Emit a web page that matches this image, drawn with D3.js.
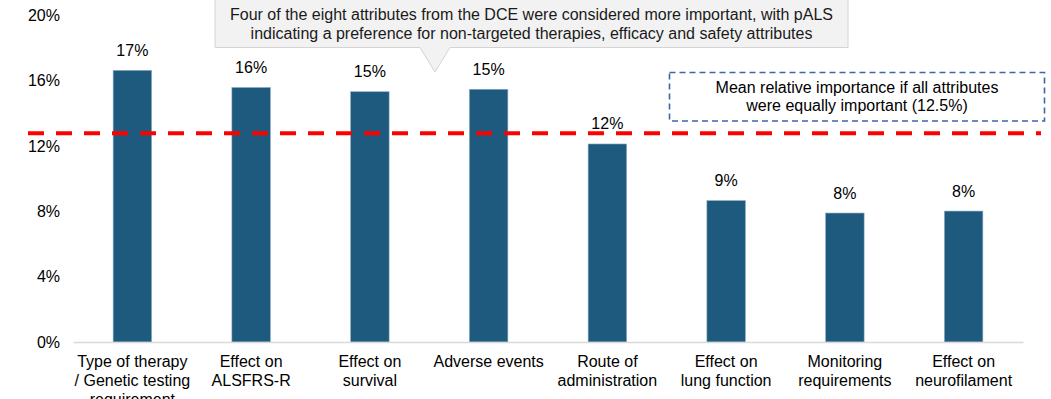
<!DOCTYPE html>
<html>
<head>
<meta charset="utf-8">
<script src="https://cdn.jsdelivr.net/npm/d3@7"></script>
<style>
  html, body { margin: 0; padding: 0; background: #fff; }
  svg { display: block; font-family: "Liberation Sans", Arial, sans-serif; }
</style>
</head>
<body>
<svg id="chart" width="1051" height="399"></svg>
<script>
// ---- data ----
const categories = [
  ["Type of therapy", "/ Genetic testing", "requirement"],
  ["Effect on", "ALSFRS-R"],
  ["Effect on", "survival"],
  ["Adverse events"],
  ["Route of", "administration"],
  ["Effect on", "lung function"],
  ["Monitoring", "requirements"],
  ["Effect on", "neurofilament"]
];
const values = [16.64, 15.59, 15.33, 15.48, 12.13, 8.66, 7.90, 8.02];
const valueLabels = ["17%", "16%", "15%", "15%", "12%", "9%", "8%", "8%"];
const yTicks = [0, 4, 8, 12, 16, 20];
const meanLineValue = 12.78;
const calloutLines = [
  "Four of the eight attributes from the DCE were considered more important, with pALS",
  "indicating a preference for non-targeted therapies, efficacy and safety attributes"
];
const meanBoxLines = [
  "Mean relative importance if all attributes",
  "were equally important (12.5%)"
];

// ---- layout ----
const svg = d3.select("#chart");
const x = d3.scaleBand()
  .domain(d3.range(categories.length))
  .range([73, 1023])
  .paddingInner(0.676)
  .paddingOuter(0.338);
const y = d3.scaleLinear().domain([0, 20]).range([342, 15.5]);

// y tick labels
const yAxis = d3.axisLeft(y).tickValues(yTicks).tickFormat(d => d + "%").tickSize(0).tickPadding(0);
const yg = svg.append("g").attr("transform", "translate(60,0)").call(yAxis);
yg.select(".domain").remove();
yg.selectAll("text").attr("font-size", 16).attr("fill", "#000").attr("font-family", "Liberation Sans, Arial, sans-serif");

// bars
svg.append("g").selectAll("rect").data(values).join("rect")
  .attr("x", (d, i) => x(i))
  .attr("width", x.bandwidth())
  .attr("y", d => y(d))
  .attr("height", d => y(0) - y(d))
  .attr("fill", "#1e5a7d")
  .attr("stroke", "#8aaac4")
  .attr("stroke-width", 0.6);

// baseline axis
const xAxis = d3.axisBottom(x).tickSize(0).tickFormat("");
const xg = svg.append("g").attr("transform", `translate(0,${y(0)})`).call(xAxis);
xg.select(".domain").attr("stroke", "#d9d9d9").attr("stroke-width", 1.6);

// x labels
const lab = svg.append("g").selectAll("text").data(categories).join("text")
  .attr("x", (d, i) => x(i) + x.bandwidth() / 2)
  .attr("y", 367)
  .attr("text-anchor", "middle")
  .attr("font-size", 16)
  .attr("fill", "#000");
lab.selectAll("tspan").data(d => d).join("tspan")
  .attr("x", function() { return this.parentNode.getAttribute("x"); })
  .attr("dy", (d, i) => i === 0 ? 0 : 19)
  .text(d => d);

// value labels
svg.append("g").selectAll("text").data(values).join("text")
  .attr("x", (d, i) => x(i) + x.bandwidth() / 2)
  .attr("y", d => y(d) - 14.5)
  .attr("text-anchor", "middle")
  .attr("font-size", 16)
  .attr("fill", "#000")
  .text((d, i) => valueLabels[i]);

// mean line
svg.append("line")
  .attr("x1", 28).attr("x2", 1041)
  .attr("y1", y(meanLineValue)).attr("y2", y(meanLineValue))
  .attr("stroke", "#ff0000")
  .attr("stroke-width", 4)
  .attr("stroke-dasharray", "16,12");

// callout box
const cb = { l: 215, r: 848, t: -2, b: 47.5, tl: 420, tr: 450, tipX: 435, tipY: 72 };
svg.append("path")
  .attr("d", `M${cb.l},${cb.t} L${cb.r},${cb.t} L${cb.r},${cb.b} L${cb.tr},${cb.b} L${cb.tipX},${cb.tipY} L${cb.tl},${cb.b} L${cb.l},${cb.b} Z`)
  .attr("fill", "#f2f2f2")
  .attr("stroke", "#d4d4d4")
  .attr("stroke-width", 1);
svg.append("g").selectAll("text").data(calloutLines).join("text")
  .attr("x", (cb.l + cb.r) / 2)
  .attr("y", (d, i) => 19.5 + i * 19.5)
  .attr("text-anchor", "middle")
  .attr("font-size", 16)
  .attr("fill", "#1a1a1a")
  .text(d => d);

// mean box
svg.append("rect")
  .attr("x", 669.5).attr("y", 72.5)
  .attr("width", 375).attr("height", 48.5)
  .attr("fill", "#fff")
  .attr("stroke", "#3d66a6")
  .attr("stroke-width", 1.6)
  .attr("stroke-dasharray", "6,4");
svg.append("g").selectAll("text").data(meanBoxLines).join("text")
  .attr("x", 857)
  .attr("y", (d, i) => 92.5 + i * 18.5)
  .attr("text-anchor", "middle")
  .attr("font-size", 16)
  .attr("fill", "#000")
  .text(d => d);
</script>
</body>
</html>
